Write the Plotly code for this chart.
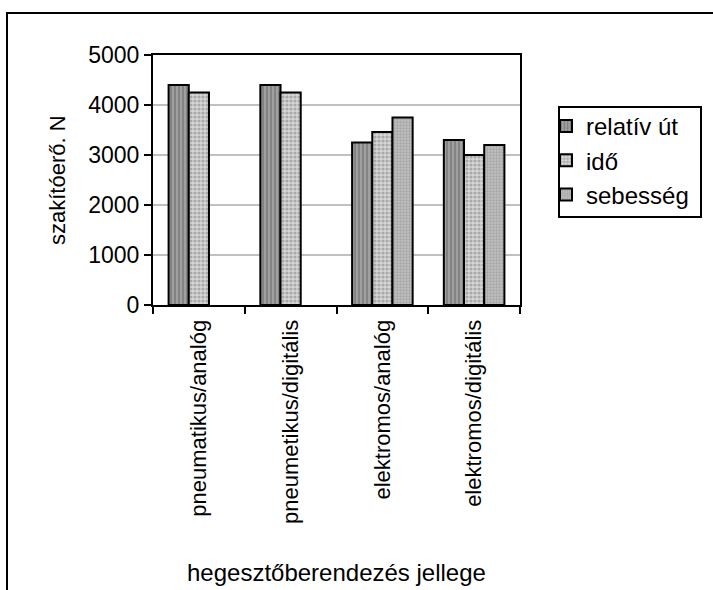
import plotly.graph_objects as go

categories = ["pneumatikus/analóg", "pneumetikus/digitális", "elektromos/analóg", "elektromos/digitális"]
series_names = ["relatív út", "idő", "sebesség"]
relativ_ut = [4400, 4400, 3250, 3300]
ido = [4250, 4250, 3460, 3000]
sebesseg = [None, None, 3750, 3200]
y_ticks = [0, 1000, 2000, 3000, 4000, 5000]

W, H = 713, 590
L, R, T, B = 153, 520, 55, 305  # plot area pixel bounds


def px_x(p):
    return (p - L) / (R - L)


def px_y(p):
    return (B - p) / (B - T)


font_family = "Liberation Sans, Arial, sans-serif"

patterns = [
    dict(shape="|", bgcolor="#a0a0a0", fgcolor="#5e5e5e", size=4, solidity=0.45),
    dict(shape=".", bgcolor="#d6d6d6", fgcolor="#7a7a7a", size=4, solidity=0.5),
    dict(shape=".", bgcolor="#c0c0c0", fgcolor="#8a8a8a", size=3, solidity=0.45),
]

fig = go.Figure()
for i, (name, vals) in enumerate(zip(series_names, [relativ_ut, ido, sebesseg])):
    fig.add_trace(go.Bar(
        x=categories, y=vals, name=name, legendgroup=name,
        marker=dict(color=patterns[i]["bgcolor"], pattern=patterns[i],
                    line=dict(color="black", width=2)),
    ))

fig.update_layout(
    width=W, height=H,
    margin=dict(l=L, r=W - R, t=T, b=H - B, autoexpand=False),
    paper_bgcolor="white", plot_bgcolor="white",
    font=dict(family=font_family, size=22, color="black"),
    barmode="group", bargap=0.34, bargroupgap=0,
    showlegend=True,
    legend=dict(x=px_x(546), y=px_y(104), xanchor="left", yanchor="top",
                borderwidth=0, bgcolor="rgba(0,0,0,0)",
                font=dict(size=24), tracegroupgap=0, itemwidth=30,
                traceorder="normal"),
    xaxis=dict(type="category", showline=True, linecolor="black", linewidth=2,
               mirror=True, ticks="outside", tickson="boundaries", ticklen=7,
               tickwidth=2, tickcolor="black", tickangle=-90, showgrid=False,
               tickfont=dict(size=22), ticklabelstandoff=4),
    yaxis=dict(range=[0, 5000], tickvals=y_ticks, showline=True, linecolor="black",
               linewidth=2, mirror=True, ticks="outside", ticklen=7, tickwidth=2,
               tickcolor="black", showgrid=True, gridcolor="#c0c0c0", gridwidth=2,
               tickfont=dict(size=23), zeroline=False),
    annotations=[
        dict(text="szakítóerő. N", x=px_x(57), y=px_y(180), xref="paper", yref="paper",
             textangle=-90, showarrow=False, font=dict(size=22),
             xanchor="center", yanchor="middle"),
        dict(text="hegesztőberendezés jellege", x=0.5, y=px_y(572), xref="paper",
             yref="paper", showarrow=False, font=dict(size=24),
             xanchor="center", yanchor="middle"),
    ],
    shapes=[
        dict(type="rect", xref="paper", yref="paper",
             x0=px_x(7), x1=px_x(730), y0=px_y(620), y1=px_y(13),
             line=dict(color="black", width=2), layer="below"),
        dict(type="rect", xref="paper", yref="paper",
             x0=px_x(559), x1=px_x(701), y0=px_y(217), y1=px_y(107),
             line=dict(color="black", width=2), fillcolor="white", layer="below"),
    ],
)

fig.write_html("out.html", config={"displayModeBar": False},
               post_script="document.body.style.margin='0';")
